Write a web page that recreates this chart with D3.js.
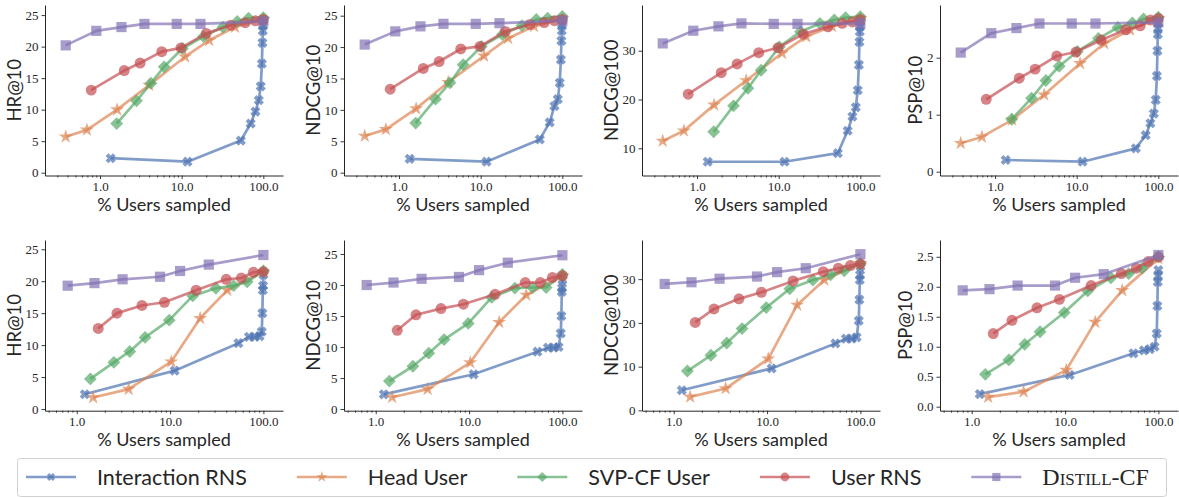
<!DOCTYPE html>
<html>
<head>
<meta charset="utf-8">
<script src="https://cdn.jsdelivr.net/npm/d3@7"></script>
<style>
  body { margin: 0; background: #fff; }
  svg { display: block; }
</style>
</head>
<body>
<div id="chart"></div>
<script>
// Series names, in drawing order (first = bottom)
const methods = ["Interaction RNS", "Head User", "SVP-CF User", "User RNS", "Distill-CF"]

// % users sampled, top row dataset
const rnsXTop     = [1.35, 11.8, 53, 70, 80, 88, 93, 96, 97.5, 98.5, 99.3, 100]
const headXTop    = [0.38, 0.69, 1.62, 4.0, 11, 21.7, 45, 100]
const svpXTop     = [1.6, 2.8, 4.2, 6.1, 10.2, 18.5, 32, 48, 66, 100]
const userXTop    = [0.78, 1.98, 3.1, 5.7, 9.8, 20, 40, 60, 80, 100]
const distillXTop = [0.38, 0.9, 1.83, 3.5, 8.7, 17, 100]

// % users sampled, bottom row dataset
const rnsXBot     = [1.22, 11.2, 54, 70, 81, 91, 96, 97.5, 98.5, 99.2, 100]
const headXBot    = [1.5, 3.6, 10.3, 21, 41, 100]
const svpXBot     = [1.4, 2.5, 3.7, 5.4, 9.8, 17.5, 31, 48, 67, 100]
const userXBot    = [1.7, 2.7, 5.0, 8.7, 19, 40, 58, 78, 100]
const distillXBot = [0.8, 1.55, 3.1, 7.8, 12.8, 26, 100]

// metric values, one list per method (same order as methods)
const hr10Top = [
    [2.3, 1.75, 5.1, 7.8, 9.7, 11.5, 13.7, 17.3, 20.6, 22.5, 23.4, 24.2],
    [5.7, 6.8, 10.0, 13.9, 18.4, 21.0, 23.1, 24.3],
    [7.8, 11.4, 14.2, 16.8, 19.7, 21.6, 23.1, 24.0, 24.5, 24.6],
    [13.1, 16.2, 17.4, 19.2, 19.8, 22.1, 23.4, 23.8, 24.1, 24.3],
    [20.2, 22.5, 23.1, 23.6, 23.6, 23.6, 24.0]
]
const ndcg10Top = [
    [2.2, 1.75, 5.3, 8.0, 10.6, 11.7, 14.3, 18.0, 21.0, 22.6, 23.6, 24.2],
    [5.85, 6.9, 10.2, 14.4, 18.6, 21.4, 23.3, 24.5],
    [7.9, 11.7, 14.3, 17.2, 20.1, 22.0, 23.4, 24.4, 24.6, 24.9],
    [13.3, 16.6, 17.7, 19.7, 20.1, 22.5, 23.6, 23.9, 24.2, 24.4],
    [20.4, 22.5, 23.3, 23.7, 23.7, 23.8, 24.2]
]
const ndcg100Top = [
    [7.25, 7.25, 9.0, 13.6, 16.5, 18.4, 21.9, 27.1, 31.8, 33.9, 35.0, 36.0],
    [11.5, 13.6, 18.9, 23.9, 29.5, 32.9, 35.0, 36.6],
    [13.4, 18.7, 22.3, 26.0, 30.8, 33.9, 35.6, 36.3, 36.8, 37.0],
    [21.1, 25.5, 27.3, 29.6, 30.6, 33.4, 34.9, 35.6, 35.9, 36.4],
    [31.5, 34.1, 35.0, 35.6, 35.5, 35.5, 35.6]
]
const psp10Top = [
    [0.205, 0.175, 0.41, 0.64, 0.85, 1.02, 1.26, 1.68, 2.12, 2.41, 2.52, 2.61],
    [0.50, 0.61, 0.91, 1.35, 1.90, 2.25, 2.49, 2.69],
    [0.92, 1.29, 1.60, 1.85, 2.11, 2.34, 2.53, 2.61, 2.68, 2.71],
    [1.27, 1.64, 1.80, 2.03, 2.10, 2.31, 2.49, 2.56, 2.66, 2.69],
    [2.09, 2.43, 2.52, 2.60, 2.60, 2.60, 2.62]
]
const hr10Bot = [
    [2.3, 6.0, 10.3, 11.3, 11.3, 11.4, 12.1, 15.0, 18.6, 19.3, 21.0],
    [1.8, 3.1, 7.4, 14.2, 18.6, 21.5],
    [4.7, 7.3, 9.0, 11.2, 13.9, 17.7, 18.9, 19.3, 19.9, 21.6],
    [12.6, 15.0, 16.2, 16.7, 18.6, 20.3, 20.5, 21.4, 21.5],
    [19.3, 19.7, 20.3, 20.7, 21.6, 22.6, 24.1]
]
const ndcg10Bot = [
    [2.37, 5.6, 9.25, 9.9, 9.9, 10.0, 12.2, 15.0, 18.9, 19.5, 20.8],
    [1.9, 3.2, 7.5, 14.0, 18.4, 21.5],
    [4.5, 6.9, 9.0, 11.2, 13.8, 18.0, 19.5, 19.6, 19.6, 21.7],
    [12.7, 15.2, 16.2, 16.9, 18.5, 20.4, 20.4, 21.2, 21.5],
    [20.0, 20.4, 21.0, 21.3, 22.4, 23.6, 24.8]
]
const ndcg100Bot = [
    [4.6, 9.6, 15.3, 16.4, 16.4, 16.7, 20.5, 25.3, 29.8, 31.0, 32.9],
    [3.1, 5.0, 11.8, 24.1, 29.8, 33.6],
    [9.0, 12.6, 15.4, 18.7, 23.5, 27.8, 29.8, 31.0, 31.9, 33.6],
    [20.1, 23.2, 25.5, 27.0, 29.6, 31.7, 32.5, 33.1, 33.5],
    [28.9, 29.3, 30.1, 30.6, 31.6, 32.5, 35.7]
]
const psp10Bot = [
    [0.21, 0.53, 0.89, 0.94, 0.96, 1.0, 1.22, 1.68, 2.08, 2.18, 2.28],
    [0.16, 0.25, 0.61, 1.41, 1.94, 2.47],
    [0.54, 0.78, 1.04, 1.25, 1.57, 1.93, 2.15, 2.22, 2.31, 2.50],
    [1.22, 1.44, 1.65, 1.79, 2.02, 2.22, 2.31, 2.42, 2.50],
    [1.94, 1.96, 2.02, 2.02, 2.15, 2.21, 2.53]
]

// tick labels
const xTicks = [1, 10, 100]
const yTicks25 = [0, 5, 10, 15, 20, 25]
const yTicks30 = [10, 20, 30]
const yTicks30z = [0, 10, 20, 30]
const yTicks2 = [0, 1, 2]
const yTicks25f = [0, 0.5, 1, 1.5, 2, 2.5]

// Chart parameters
const WIDTH = 1179
const HEIGHT = 498
const COLS = [45, 344, 642, 940]           // left spine of each column
const PW = 238                              // plot width
const ROWS = [{TOP: 5, BOTTOM: 175.5}, {TOP: 240, BOTTOM: 410.7}]
const colours = ["#4C72B0", "#DD8452", "#55A868", "#C44E52", "#8172B3"]
const shapes = ["X", "star", "diamond", "circle", "square"]
const ALPHA = 0.7
const INK = "#262626"
const SANS = "Lato, 'Open Sans', sans-serif"
const SERIF = "'Liberation Serif', 'DejaVu Serif', serif"

const xsTop = [rnsXTop, headXTop, svpXTop, userXTop, distillXTop]
const xsBot = [rnsXBot, headXBot, svpXBot, userXBot, distillXBot]

const panels = [
    {row: 0, col: 0, label: "HR@10",    ys: hr10Top,    yDom: [-0.44, 26.6],  ticks: yTicks25,  fmt: d3.format("d")},
    {row: 0, col: 1, label: "NDCG@10",  ys: ndcg10Top,  yDom: [-0.45, 26.7],  ticks: yTicks25,  fmt: d3.format("d")},
    {row: 0, col: 2, label: "NDCG@100", ys: ndcg100Top, yDom: [4.43, 39.37],  ticks: yTicks30,  fmt: d3.format("d")},
    {row: 0, col: 3, label: "PSP@10",   ys: psp10Top,   yDom: [-0.067, 2.925], ticks: yTicks2,  fmt: d3.format("d")},
    {row: 1, col: 0, label: "HR@10",    ys: hr10Bot,    yDom: [-0.27, 26.45], ticks: yTicks25,  fmt: d3.format("d")},
    {row: 1, col: 1, label: "NDCG@10",  ys: ndcg10Bot,  yDom: [-0.27, 27.26], ticks: yTicks25,  fmt: d3.format("d")},
    {row: 1, col: 2, label: "NDCG@100", ys: ndcg100Bot, yDom: [-0.07, 38.95], ticks: yTicks30z, fmt: d3.format("d")},
    {row: 1, col: 3, label: "PSP@10",   ys: psp10Bot,   yDom: [-0.067, 2.78], ticks: yTicks25f, fmt: d3.format(".1f")}
]
const xDomains = [[Math.pow(10, -0.674), Math.pow(10, 2.241)], [Math.pow(10, -0.34), Math.pow(10, 2.21)]]

// marker paths centred on 0,0
function markerPath(shape, k) {
    if (shape == "X") {
        const r = 5.2 * k, w = 2 * k
        const pts = [[-w,-r],[w,-r],[w,-w],[r,-w],[r,w],[w,w],[w,r],[-w,r],[-w,w],[-r,w],[-r,-w],[-w,-w]]
        const c = Math.SQRT1_2
        return "M" + pts.map(p => [(p[0]-p[1])*c, (p[0]+p[1])*c].join(",")).join("L") + "Z"
    }
    if (shape == "star") return d3.symbol(d3.symbolStar, 62 * k * k)()
    if (shape == "diamond") { const r = 6.4 * k; return `M0,${-r}L${r},0L0,${r}L${-r},0Z` }
    if (shape == "circle") return d3.symbol(d3.symbolCircle, Math.PI * 30 * k * k)()
    const h = 5.1 * k
    return `M${-h},${-h}H${h}V${h}H${-h}Z`
}

const svg = d3.select("#chart").append("svg")
    .attr("width", WIDTH)
    .attr("height", HEIGHT)
    .style("font-family", SANS)

panels.forEach(p => {
    const L = COLS[p.col], R = L + PW
    const T = ROWS[p.row].TOP, B = ROWS[p.row].BOTTOM
    const xs = p.row == 0 ? xsTop : xsBot

    const x = d3.scaleLog().domain(xDomains[p.row]).range([L, R])
    const y = d3.scaleLinear().domain(p.yDom).range([B, T])
    const g = svg.append("g")

    // minor ticks on the log axis
    const minor = []
    for (let e = -1; e <= 2; e++)
        for (let m = 2; m <= 9; m++) {
            const v = m * Math.pow(10, e)
            if (v >= x.domain()[0] && v <= x.domain()[1]) minor.push(v)
        }
    const xm = g.append("g").attr("transform", `translate(0,${B})`)
        .call(d3.axisBottom(x).tickValues(minor).tickFormat("").tickSize(2).tickSizeOuter(0))
    xm.select(".domain").remove()

    const xg = g.append("g").attr("transform", `translate(0,${B})`)
        .call(d3.axisBottom(x).tickValues(xTicks).tickFormat(d3.format(".1f")).tickSize(3.5).tickPadding(3).tickSizeOuter(0))
    const yg = g.append("g").attr("transform", `translate(${L},0)`)
        .call(d3.axisLeft(y).tickValues(p.ticks).tickFormat(p.fmt).tickSize(3.5).tickPadding(3).tickSizeOuter(0))

    g.selectAll(".domain").attr("stroke", INK).attr("stroke-width", 1)
    g.selectAll(".tick line").attr("stroke", INK).attr("stroke-width", 0.9)
    g.selectAll(".tick text").attr("fill", INK).style("font-family", SERIF).style("font-size", "13px")

    // axis labels
    g.append("text")
        .attr("x", (L + R) / 2).attr("y", B + 35)
        .attr("text-anchor", "middle").attr("fill", INK)
        .style("font-size", "18px")
        .text("% Users sampled")
    const bb = yg.node().getBBox()         // local to the translated axis group
    g.append("text")
        .attr("transform", `translate(${L + bb.x - 5},${(T + B) / 2}) rotate(-90)`)
        .attr("text-anchor", "middle").attr("fill", INK)
        .style("font-size", "18.5px")
        .text(p.label)

    // series
    const line = d3.line().x(d => x(d[0])).y(d => y(d[1]))
    methods.forEach((m, i) => {
        const pts = xs[i].map((v, j) => [v, p.ys[i][j]])
        const s = g.append("g")
        s.append("path").datum(pts)
            .attr("d", line)
            .attr("fill", "none")
            .attr("stroke", colours[i])
            .attr("stroke-width", 2.7)
            .attr("stroke-opacity", ALPHA)
            .attr("stroke-linejoin", "round")
        s.selectAll("path.mk").data(pts).join("path")
            .attr("class", "mk")
            .attr("d", markerPath(shapes[i], 1))
            .attr("transform", d => `translate(${x(d[0])},${y(d[1])})`)
            .attr("fill", colours[i])
            .attr("fill-opacity", ALPHA)
    })
})

// Legend
const leg = svg.append("g")
leg.append("rect")
    .attr("x", 17.5).attr("y", 458.5).attr("width", 1149).attr("height", 38)
    .attr("rx", 3).attr("fill", "#fff").attr("stroke", "#d0d0d0").attr("stroke-width", 1)
let cx = 26
const LY = 477
methods.forEach((m, i) => {
    leg.append("line")
        .attr("x1", cx).attr("x2", cx + 50).attr("y1", LY).attr("y2", LY)
        .attr("stroke", colours[i]).attr("stroke-width", 2.7).attr("stroke-opacity", ALPHA)
    leg.append("path")
        .attr("d", markerPath(shapes[i], 0.8))
        .attr("transform", `translate(${cx + 25},${LY})`)
        .attr("fill", colours[i]).attr("fill-opacity", ALPHA)
    const t = leg.append("text")
        .attr("x", cx + 71).attr("y", LY).attr("dy", "0.35em")
        .attr("fill", INK)
        .style("font-size", "21.5px")
        .text(m)
    if (m == "Distill-CF") t.style("font-family", SERIF).style("font-variant", "small-caps").style("font-size", "24px")
    cx += 71 + t.node().getComputedTextLength() + 50
})
</script>
</body>
</html>
